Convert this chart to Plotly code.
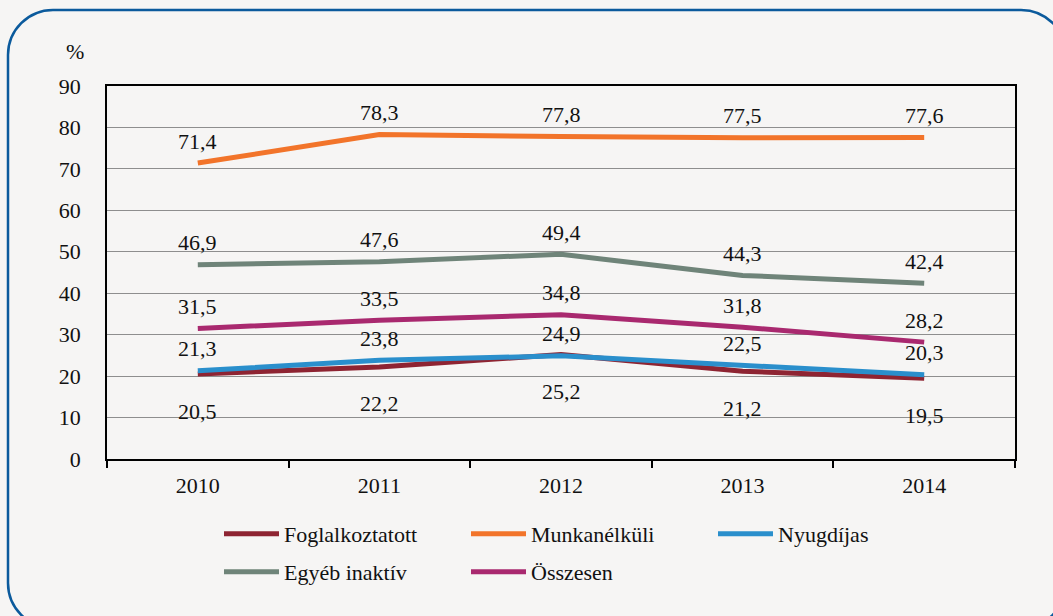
import plotly.graph_objects as go

years = ["2010", "2011", "2012", "2013", "2014"]
foglalkoztatott = [20.5, 22.2, 25.2, 21.2, 19.5]
munkanelkuli = [71.4, 78.3, 77.8, 77.5, 77.6]
nyugdijas = [21.3, 23.8, 24.9, 22.5, 20.3]
egyeb_inaktiv = [46.9, 47.6, 49.4, 44.3, 42.4]
osszesen = [31.5, 33.5, 34.8, 31.8, 28.2]

series = [
    ("Foglalkoztatott", foglalkoztatott, "#8E2432", "below", "legend"),
    ("Munkanélküli", munkanelkuli, "#F2742A", "above", "legend"),
    ("Nyugdíjas", nyugdijas, "#2A8FCC", "above", "legend"),
    ("Egyéb inaktív", egyeb_inaktiv, "#6F8479", "above", "legend2"),
    ("Összesen", osszesen, "#A9296F", "above", "legend2"),
]

FONT = "Liberation Serif"
FS = 22
W, H = 1053, 616
ML, MR, MT, MB = 107, 38, 86, 157
PW, PH = W - ML - MR, H - MT - MB
BG = "#F6F5F4"

def px(x):
    return (x - ML) / PW

def py(y):
    return (H - MB - y) / PH

fig = go.Figure()
annotations = []
for name, vals, color, pos, leg in series:
    fig.add_trace(go.Scatter(
        x=years, y=vals, name=name, mode="lines",
        line=dict(color=color, width=5), legend=leg,
    ))
    for i, yv in enumerate(vals):
        annotations.append(dict(
            x=i, y=yv, xref="x", yref="y", showarrow=False,
            text=f"{yv:.1f}".replace(".", ","),
            yshift=22 if pos == "above" else -37,
            font=dict(family=FONT, size=FS, color="#111111"),
        ))

annotations.append(dict(
    x=px(75), y=py(52), xref="paper", yref="paper", showarrow=False,
    xanchor="center", yanchor="middle",
    text="%", font=dict(family=FONT, size=FS, color="#111111"),
))

# rounded frame
r = 45
k = 0.5523 * r
L, T, R, B = 8, 10, 1066, 628
pts = [
    ("M", [(L, B - r)]),
    ("L", [(L, T + r)]),
    ("C", [(L, T + r - k), (L + r - k, T), (L + r, T)]),
    ("L", [(R - r, T)]),
    ("C", [(R - r + k, T), (R, T + r - k), (R, T + r)]),
    ("L", [(R, B - r)]),
    ("C", [(R, B - r + k), (R - r + k, B), (R - r, B)]),
    ("L", [(L + r, B)]),
    ("C", [(L + r - k, B), (L, B - r + k), (L, B - r)]),
]
path = " ".join(cmd + " " + " ".join(f"{px(a):.5f},{py(b):.5f}" for a, b in p) for cmd, p in pts) + " Z"

leg_common = dict(orientation="h", xanchor="left", yanchor="top",
                  entrywidth=177, entrywidthmode="pixels", itemwidth=55,
                  font=dict(family=FONT, size=FS, color="#111111"),
                  bgcolor="rgba(0,0,0,0)")

fig.update_layout(
    width=W, height=H,
    margin=dict(l=ML, r=MR, t=MT, b=MB),
    paper_bgcolor=BG, plot_bgcolor=BG,
    font=dict(family=FONT, size=FS, color="#111111"),
    annotations=annotations,
    shapes=[dict(type="path", path=path, xref="paper", yref="paper",
                 line=dict(color="#0B5A9C", width=2.5), layer="below")],
    legend=dict(x=px(219), y=py(513), **leg_common),
    legend2=dict(x=px(219), y=py(551), **leg_common),
    xaxis=dict(type="category", range=[-0.5, 4.5], showline=True,
               linecolor="#000000", linewidth=1.5,
               mirror=True, ticks="outside", tickson="boundaries", ticklen=7,
               tickcolor="#000000", tickwidth=1.5, showgrid=False,
               ticklabelstandoff=6, tickangle=0,
               tickfont=dict(family=FONT, size=FS)),
    yaxis=dict(range=[0, 90], dtick=10, showline=True, linecolor="#000000",
               linewidth=1.5, mirror=True, ticks="", showgrid=True,
               gridcolor="#8E8E8E", gridwidth=1, zeroline=False,
               ticklabelstandoff=20, tickfont=dict(family=FONT, size=FS)),
)

fig.write_html(
    "out.html",
    config={"displayModeBar": False},
    post_script="document.body.style.margin='0';document.body.style.background='#F6F5F4';",
)
